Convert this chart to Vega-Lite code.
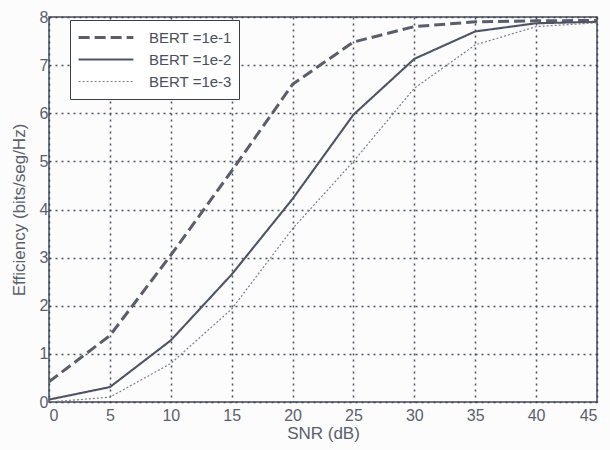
{
  "$schema": "https://vega.github.io/schema/vega-lite/v6.json",
  "width": 548,
  "height": 385,
  "autosize": "none",
  "padding": {"left": 49, "top": 17, "right": 13, "bottom": 48},
  "background": "#fcfcfc",
  "config": {
    "font": "Liberation Sans",
    "view": {"stroke": "#444a58", "strokeWidth": 1.5}
  },
  "data": {
    "values": [
      {"snr": 0, "eff": 0.42, "series": "BERT =1e-1"},
      {"snr": 5, "eff": 1.38, "series": "BERT =1e-1"},
      {"snr": 10, "eff": 3.05, "series": "BERT =1e-1"},
      {"snr": 15, "eff": 4.8, "series": "BERT =1e-1"},
      {"snr": 20, "eff": 6.6, "series": "BERT =1e-1"},
      {"snr": 25, "eff": 7.48, "series": "BERT =1e-1"},
      {"snr": 30, "eff": 7.8, "series": "BERT =1e-1"},
      {"snr": 35, "eff": 7.9, "series": "BERT =1e-1"},
      {"snr": 40, "eff": 7.92, "series": "BERT =1e-1"},
      {"snr": 45, "eff": 7.93, "series": "BERT =1e-1"},
      {"snr": 0, "eff": 0.05, "series": "BERT =1e-2"},
      {"snr": 5, "eff": 0.31, "series": "BERT =1e-2"},
      {"snr": 10, "eff": 1.28, "series": "BERT =1e-2"},
      {"snr": 15, "eff": 2.65, "series": "BERT =1e-2"},
      {"snr": 20, "eff": 4.22, "series": "BERT =1e-2"},
      {"snr": 25, "eff": 5.97, "series": "BERT =1e-2"},
      {"snr": 30, "eff": 7.13, "series": "BERT =1e-2"},
      {"snr": 35, "eff": 7.7, "series": "BERT =1e-2"},
      {"snr": 40, "eff": 7.87, "series": "BERT =1e-2"},
      {"snr": 45, "eff": 7.9, "series": "BERT =1e-2"},
      {"snr": 0, "eff": 0.0, "series": "BERT =1e-3"},
      {"snr": 5, "eff": 0.1, "series": "BERT =1e-3"},
      {"snr": 10, "eff": 0.8, "series": "BERT =1e-3"},
      {"snr": 15, "eff": 1.93, "series": "BERT =1e-3"},
      {"snr": 20, "eff": 3.6, "series": "BERT =1e-3"},
      {"snr": 25, "eff": 5.0, "series": "BERT =1e-3"},
      {"snr": 30, "eff": 6.52, "series": "BERT =1e-3"},
      {"snr": 35, "eff": 7.42, "series": "BERT =1e-3"},
      {"snr": 40, "eff": 7.8, "series": "BERT =1e-3"},
      {"snr": 45, "eff": 7.88, "series": "BERT =1e-3"}
    ]
  },
  "mark": {"type": "line", "clip": true},
  "encoding": {
    "x": {
      "field": "snr",
      "type": "quantitative",
      "title": "SNR (dB)",
      "scale": {"domain": [0, 45], "nice": false, "zero": false},
      "axis": {
        "values": [0, 5, 10, 15, 20, 25, 30, 35, 40, 45],
        "grid": true, "gridColor": "#3a3f4c", "gridDash": [2, 4], "gridWidth": 1.5, "gridOpacity": 0.9,
        "domain": false, "ticks": false,
        "labelFont": "Liberation Sans", "labelFontSize": 16, "labelColor": "#5a5f6c", "labelPadding": 5,
        "titleFont": "Liberation Sans", "titleFontSize": 17, "titleFontWeight": "normal", "titleColor": "#5a5f6c", "titlePadding": 2
      }
    },
    "y": {
      "field": "eff",
      "type": "quantitative",
      "title": "Efficiency (bits/seg/Hz)",
      "scale": {"domain": [0, 8], "nice": false},
      "axis": {
        "values": [0, 1, 2, 3, 4, 5, 6, 7, 8],
        "grid": true, "gridColor": "#3a3f4c", "gridDash": [2, 4], "gridWidth": 1.5, "gridOpacity": 0.9,
        "domain": false, "ticks": false,
        "labelFont": "Liberation Sans", "labelFontSize": 16, "labelColor": "#5a5f6c", "labelPadding": 1,
        "titleFont": "Liberation Sans", "titleFontSize": 17, "titleFontWeight": "normal", "titleColor": "#5a5f6c", "titlePadding": 11
      }
    },
    "color": {
      "field": "series",
      "type": "nominal",
      "title": null,
      "scale": {"domain": ["BERT =1e-1", "BERT =1e-2", "BERT =1e-3"], "range": ["#5a5e6a", "#4e5466", "#7a7f8c"]},
      "legend": {
        "orient": "none",
        "legendX": 21,
        "legendY": 3,
        "symbolType": "stroke",
        "symbolSize": 3000,
        "clipHeight": 21,
        "labelFontSize": 15,
        "labelColor": "#4a4f5c",
        "labelFont": "Liberation Sans",
        "rowPadding": 1,
        "padding": 7,
        "strokeColor": "#3a3f4c",
        "fillColor": "#ffffff",
        "labelOffset": 14
      }
    },
    "strokeDash": {
      "field": "series",
      "type": "nominal",
      "title": null,
      "scale": {"domain": ["BERT =1e-1", "BERT =1e-2", "BERT =1e-3"], "range": [[11, 5], [1, 0], [2, 2]]}
    },
    "strokeWidth": {
      "field": "series",
      "type": "nominal",
      "title": null,
      "scale": {"domain": ["BERT =1e-1", "BERT =1e-2", "BERT =1e-3"], "range": [3, 1.2, 1]}
    }
  }
}
